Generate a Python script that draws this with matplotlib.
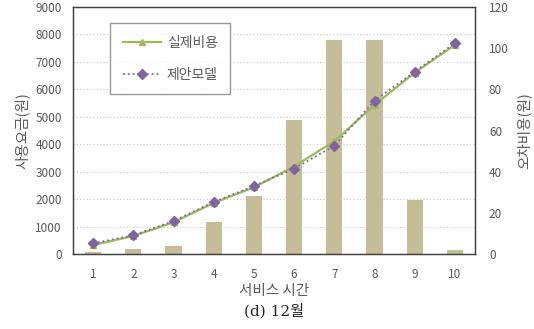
import numpy as np
import matplotlib.pyplot as plt

plt.rcParams['font.family'] = ['Noto Sans CJK KR', 'DejaVu Sans']

hours = [1, 2, 3, 4, 5, 6, 7, 8, 9, 10]
usage_fee = [70, 180, 300, 1170, 2130, 4870, 7800, 7800, 1950, 130]
actual_cost = [4.4, 8.7, 15.4, 24.8, 32.4, 42.5, 54.8, 72.4, 88.1, 101.6]
proposed_cost = [5.2, 9.1, 16.0, 25.3, 33.0, 41.5, 52.5, 74.5, 88.6, 102.4]

grey = '#595959'
bar_color = '#c4bd97'
green = '#9bbb59'
purple = '#8064a2'

fig = plt.figure(figsize=(5.34, 3.29), dpi=100)
ax = fig.add_axes([73 / 534, 1 - 254 / 329, 402 / 534, 247 / 329])
ax2 = ax.twinx()

x = np.arange(len(hours))
ax.bar(x, usage_fee, width=0.4, color=bar_color, zorder=2)
ax.set_ylim(0, 9000)
ax.set_yticks(np.arange(0, 9001, 1000))
ax.set_xlim(-0.5, len(hours) - 0.5)
ax.set_xticks(x)
ax.set_xticklabels([str(h) for h in hours])
ax.grid(axis='y', linestyle=(0, (1, 2)), color='#c8c8c8', linewidth=0.8, zorder=0)
ax.set_axisbelow(True)

ax2.plot(x, actual_cost, color=green, lw=1.6, marker='^', ms=5,
         label='실제비용', zorder=3)
ax2.plot(x, proposed_cost, color=purple, lw=1.3, ls=':', marker='D', ms=5.5,
         label='제안모델', zorder=4)
ax2.set_ylim(0, 120)
ax2.set_yticks(np.arange(0, 121, 20))

for a in (ax, ax2):
    a.tick_params(length=0, labelsize=8.5, colors=grey)
    for s in a.spines.values():
        s.set_color('#404040')
        s.set_linewidth(0.9)
ax.tick_params(axis='x', pad=10)
ax.tick_params(axis='y', pad=8)
ax2.tick_params(axis='y', pad=10)

ax.set_ylabel('사용요금(원)', fontsize=10.5, color=grey, labelpad=4)
ax2.set_ylabel('오차비용(원)', fontsize=10.5, color=grey, rotation=90, labelpad=6)
ax.set_xlabel('서비스 시간', fontsize=10.5, color=grey, labelpad=2)

fig.text(274 / 534, 1 - 311 / 329, '(d) 12월', ha='center', va='center',
         fontsize=11, color='#222222', family=['DejaVu Serif', 'Noto Sans CJK KR'])

leg = ax2.legend(loc='upper left', bbox_to_anchor=(37 / 402, 1 - 16 / 247),
                 fontsize=10, frameon=True, fancybox=False, edgecolor='#808080',
                 labelspacing=1.3, handlelength=2.8, handletextpad=0.4,
                 borderpad=0.9, borderaxespad=0)
leg.get_frame().set_linewidth(1.0)
for t in leg.get_texts():
    t.set_color(grey)

fig.savefig('out.png', dpi=100)
